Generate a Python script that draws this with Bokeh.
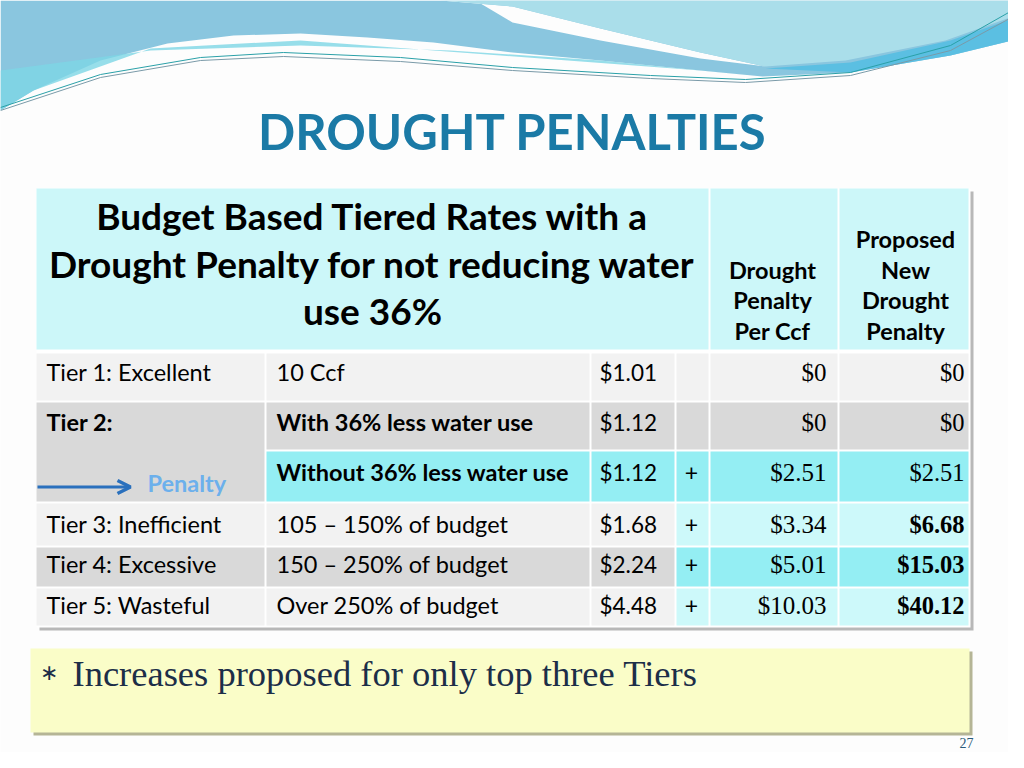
from bokeh.plotting import figure
from bokeh.models import Range1d, ColumnDataSource, Arrow, OpenHead
from bokeh.core.properties import value
from bokeh.embed import file_html
from bokeh.resources import INLINE

# ---------------- data ----------------
title = "DROUGHT PENALTIES"
header_main = ["Budget Based Tiered Rates with a",
               "Drought Penalty for not reducing water",
               "use 36%"]
header_penalty = ["Drought", "Penalty", "Per Ccf"]
header_proposed = ["Proposed", "New", "Drought", "Penalty"]

tiers = ["Tier 1: Excellent", "Tier 2:", "", "Tier 3: Inefficient",
         "Tier 4: Excessive", "Tier 5: Wasteful"]
usage = ["10 Ccf", "With 36% less water use", "Without 36% less water use",
         "105 \u2013 150% of budget", "150 \u2013 250% of budget", "Over 250% of budget"]
rates = ["$1.01", "$1.12", "$1.12", "$1.68", "$2.24", "$4.48"]
plus = ["", "", "+", "+", "+", "+"]
penalty_per_ccf = ["$0", "$0", "$2.51", "$3.34", "$5.01", "$10.03"]
proposed_penalty = ["$0", "$0", "$2.51", "$6.68", "$15.03", "$40.12"]
proposed_bold = [False, False, False, True, True, True]
note = "Increases proposed for only top three Tiers"
page_no = "27"

# ---------------- layout ----------------
SANS = value("Lato")
SERIF = value("Liberation Serif")
LGRAY, DGRAY = "#f2f2f2", "#d9d9d9"
HEAD, CYAN, LCYAN = "#ccf7f9", "#94eef3", "#cdf9fa"
BG = "#fdfdfd"

col_l = [36, 266, 591, 676, 710, 839]
col_r = [264, 589, 674, 708, 837, 968]
row_t = [353, 402, 451, 503, 547, 588]
row_b = [400, 449, 501, 545, 586, 625]
base = [371.5, 421.5, 471.5, 523.5, 563.5, 604.5]

p = figure(width=1008, height=752, x_range=Range1d(0, 1008), y_range=Range1d(752, 0),
           output_backend="svg", toolbar_location=None, min_border=0,
           x_axis_location=None, y_axis_location=None)
p.grid.visible = False
p.outline_line_color = None
p.background_fill_color = BG
p.border_fill_color = BG

# ---------------- wave decoration ----------------
p.patch([0, 1024, 1024, 950, 850, 762, 700, 600, 512, 433, 367, 300, 233, 167, 100, 33, 0],
        [0, 0, 37, 55, 72, 76, 70, 60, 52, 42, 37, 33, 35, 43, 60, 90, 110],
        fill_color="#8ac6df", line_color=None)
p.patch([0, 150, 300, 450, 600, 762, 700, 500, 300, 150, 33, 0],
        [70, 50, 45, 50, 60, 76, 70, 55, 40, 48, 90, 110],
        fill_color="#7dd6e5", line_color=None, alpha=0.8)
p.patch([440, 512, 600, 700, 765, 700, 600, 512, 475],
        [0, 6, 28, 52, 66, 58, 40, 22, 0], fill_color=BG, line_color=None)
p.patch([440, 1024, 1024, 945, 845, 765, 700, 600, 512],
        [0, 0, 12, 40, 60, 66, 52, 28, 6], fill_color="#aadeea", line_color=None)
p.patch([765, 850, 950, 1024, 1024, 950, 850],
        [68, 62, 40, 14, 37, 55, 72], fill_color="#5bbfe2", line_color=None)
p.line([0, 100, 200, 283, 400, 512, 650, 745, 850, 950, 1024],
       [107, 74, 57, 52, 57, 67, 75, 79, 72, 45, 3], line_color="#2aa0a8", line_width=1)
p.line([0, 100, 200, 283, 400, 512, 650, 745, 850, 950, 1024],
       [110, 77, 60, 56, 61, 70, 78, 82, 75, 50, 10], line_color="#7a9aa8", line_width=1)

# ---------------- title ----------------
p.text(x=[512], y=[130], text=[title], text_font=SANS, text_font_style="bold",
       text_font_size="49px", text_color="#1b7aa6", text_align="center",
       text_baseline="alphabetic")

# ---------------- table shadow + cells ----------------
p.quad(left=[39], right=[973], top=[191], bottom=[630], fill_color="#9a9a9a",
       line_color=None, alpha=0.7)
p.quad(left=[36], right=[970], top=[188], bottom=[627], fill_color="white", line_color=None)

p.quad(left=[36, 710, 839], right=[708, 837, 968], top=[188] * 3, bottom=[349] * 3,
       fill_color=HEAD, line_color=None)

row_fill_left = [LGRAY, DGRAY, CYAN, LGRAY, DGRAY, LGRAY]
row_fill_right = [LGRAY, DGRAY, CYAN, LCYAN, CYAN, LCYAN]
L, R, T, B, C = [], [], [], [], []
for i in range(len(tiers)):
    for j in range(6):
        if j == 0 and i in (1, 2):
            continue
        L.append(col_l[j]); R.append(col_r[j]); T.append(row_t[i]); B.append(row_b[i])
        C.append(row_fill_left[i] if j < 3 else row_fill_right[i])
L.append(col_l[0]); R.append(col_r[0]); T.append(row_t[1]); B.append(row_b[2]); C.append(DGRAY)
p.quad(left=L, right=R, top=T, bottom=B, fill_color=C, line_color=None)

# ---------------- header texts ----------------
p.text(x=[372] * 3, y=[215, 263, 310], text=header_main, text_font=SANS,
       text_font_style="bold", text_font_size="37px", text_color="black",
       text_align="center", text_baseline="alphabetic")
p.text(x=[772] * 3, y=[269, 299.5, 330], text=header_penalty, text_font=SANS,
       text_font_style="bold", text_font_size="23.5px", text_color="black",
       text_align="center", text_baseline="alphabetic")
p.text(x=[905] * 4, y=[238, 269, 299.5, 330], text=header_proposed, text_font=SANS,
       text_font_style="bold", text_font_size="23.5px", text_color="black",
       text_align="center", text_baseline="alphabetic")

# ---------------- body texts ----------------
bold_rows = [False, True, True, False, False, False]
src = ColumnDataSource(dict(
    tier=tiers, usage=usage, rate=rates, plus=plus, ppc=penalty_per_ccf,
    prop=proposed_penalty, y=base,
    style=["bold" if b else "normal" for b in bold_rows],
    pstyle=["bold" if b else "normal" for b in proposed_bold],
    x1=[46] * 6, x2=[276] * 6, x3=[599] * 6, x4=[691] * 6, x5=[826] * 6, x6=[964] * 6))

p.text(x="x1", y="y", text="tier", source=src, text_font=SANS, text_font_style="style",
       text_font_size="23.5px", text_color="black", text_baseline="alphabetic")
p.text(x="x2", y="y", text="usage", source=src, text_font=SANS, text_font_style="style",
       text_font_size="23.5px", text_color="black", text_baseline="alphabetic")
p.text(x="x3", y="y", text="rate", source=src, text_font=SANS,
       text_font_size="22.5px", text_color="black", text_baseline="alphabetic")
p.text(x="x4", y="y", text="plus", source=src, text_font=SANS,
       text_font_size="23px", text_color="black", text_align="center",
       text_baseline="alphabetic")
p.text(x="x5", y="y", text="ppc", source=src, text_font=SERIF,
       text_font_size="25px", text_color="black", text_align="right",
       text_baseline="alphabetic")
p.text(x="x6", y="y", text="prop", source=src, text_font=SERIF, text_font_style="pstyle",
       text_font_size="24.5px", text_color="black", text_align="right",
       text_baseline="alphabetic")

# Penalty marker with arrow
p.text(x=[147], y=[482], text=["Penalty"], text_font=SANS, text_font_style="bold",
       text_font_size="23.5px", text_color="#6cb0ec", text_baseline="alphabetic")
p.add_layout(Arrow(end=OpenHead(size=13, line_color="#2a70bd", line_width=3.5),
                   x_start=37, y_start=486.5, x_end=130, y_end=486.5,
                   line_color="#2a70bd", line_width=3))

# ---------------- note box ----------------
p.quad(left=[33], right=[972], top=[651], bottom=[735], fill_color="#a3a37c",
       line_color=None, alpha=0.8)
p.quad(left=[30], right=[969], top=[648], bottom=[732], fill_color="#fafdc8", line_color=None)
p.text(x=[48], y=[672], text=["\u2217"], text_font=SERIF, text_font_size="22px",
       text_color="#1c2e48", text_align="center", text_baseline="alphabetic")
p.text(x=[72], y=[673], text=[note], text_font=SERIF, text_font_size="36.5px",
       text_color="#1c2e48", text_baseline="alphabetic")
p.text(x=[966], y=[742], text=[page_no], text_font=SERIF, text_font_size="14px",
       text_color="#2a5a7a", text_align="center", text_baseline="alphabetic")

open("out.html", "w").write(file_html(p, INLINE))
